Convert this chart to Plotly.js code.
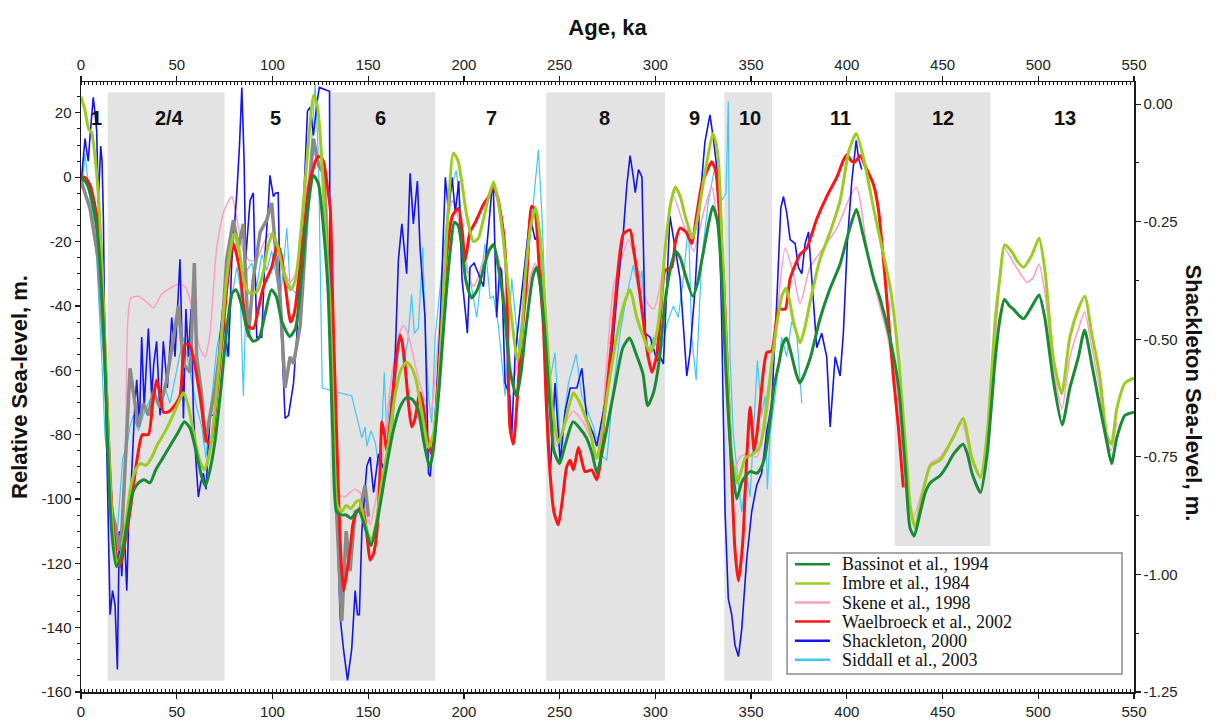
<!DOCTYPE html>
<html>
<head>
<meta charset="utf-8">
<script src="https://cdn.plot.ly/plotly-3.0.1.min.js"></script>
<style>html,body{margin:0;padding:0;background:#fff}#chart{width:1220px;height:722px}</style>
</head>
<body>
<div id="chart"></div>
<script>
// ---------------- DATA ----------------
const bandStart = [14, 130, 243, 336, 425];
const bandEnd   = [75, 185, 305, 361, 475];
const stageLabels = ['1','2/4','5','6','7','8','9','10','11','12','13'];
const stageLabelAge = [8.2, 46.1, 101.5, 156.2, 214.2, 273.3, 320.5, 349.4, 396.8, 450.1, 514];

const xTickVals = [0,50,100,150,200,250,300,350,400,450,500,550];
const xTickText = ['0','50','100','150','200','250','300','350','400','450','500','550'];
const yTickVals = [20,0,-20,-40,-60,-80,-100,-120,-140,-160];
const yTickText = ['20','0','-20','-40','-60','-80','-100','-120','-140','-160'];
const y2TickVals = [0,-0.25,-0.5,-0.75,-1,-1.25];
const y2TickText = ['0.00','-0.25','-0.50','-0.75','-1.00','-1.25'];

const bassinotAge = [0,3,6,9,12,14,16,18.5,21,24,27,30,33,36,39,43,47,51,54,57,60,63,65,67,70,73,76,79,81,84,87,90,93,96,99.5,102,105,109,112,115,118,121.5,124,126.5,129,131.5,133.5,136,138.5,141,145,148,151.5,155,159,163,167,170,173,176,179,182,184,187,190,193,195,197,199,201,204,207,210,213,215.5,218,221,224,227.5,230,232,236,238,240,242.5,245,247,250,253,257,260.5,264,267,269.5,272,275,279.5,283,286.5,290,293.5,296,299,302,305,308,310.5,313,315,319.5,322,324.5,327,330,332.5,334.5,336.5,339.5,342.5,345,347,349.5,353,355.5,357.5,360,362,364.5,366.5,368.5,371,373.5,375.5,378,381,386,391,396.5,401,405,408.5,414,417.5,422.5,427,430.5,433,435.2,438.4,441,443.6,448.8,452,455.8,460.7,463,465.4,469.8,473.3,477.6,480,482.3,485,487,490,492.4,496.8,500.4,503.5,507.8,512.5,516.5,520.9,524.2,527.9,532.2,535.7,538.3,541,545.3,550];
const bassinotSL = [0,-2,-8,-20,-50,-85,-110,-121,-118,-108,-98,-95,-94,-95,-91,-87,-83,-79,-76,-78,-85,-93,-96,-92,-82,-66,-48,-36,-35,-40,-48,-51,-50,-43,-35,-37,-45,-49.5,-47,-32,-12,0.5,-2,-15,-35,-80,-104,-105,-105,-106,-103.5,-108,-114.5,-106,-92,-79,-71,-68.5,-69,-72,-82,-90,-85,-66,-42,-22,-14,-15,-22,-32,-37.5,-35,-29,-23,-21,-28,-40,-60,-68,-60,-49,-31,-28,-34,-50,-72,-85,-89,-83,-76,-78,-81,-86,-92,-86,-77,-63,-53,-50,-55,-61,-71,-67,-57,-39,-28,-23,-25,-29,-37,-33,-25,-17,-9,-14,-30,-56,-86,-100,-95,-93,-91.5,-92,-90,-86,-75,-65,-58,-52,-50,-55,-61,-64,-61,-56,-44,-35,-27,-17,-10,-18,-31.5,-38,-50,-65,-90,-109,-111.5,-104,-98,-95,-92.7,-90,-86,-83,-86,-92,-98,-86,-56,-44,-38,-40,-41,-43,-44,-40,-36.6,-44,-63,-77,-65.5,-56,-47.5,-58,-71.5,-82,-89,-81,-74,-73];

const imbrieAge = [0,2,4,5.5,7,9,11,13,15,17,18.8,21,23.5,26,28.5,31,34,37,40,44,48,51,53.5,56,59,62,64.5,67,70,73,76,78.5,80.3,82.5,85,88,92,95,97.5,100,102.5,106,109.5,112,115,118,121.5,123.5,125.5,127.5,130,132,133.8,136,138.5,141,143.5,145.5,148,151.5,154,157,160,164,167,170,172.5,175,178,181.5,184,186.5,189,191.5,194.5,197,199,201.5,205,207.5,210,213,215.5,218,220.5,224,228,230,232,235,237.5,239.5,241.5,244,246,249.3,252,254.5,257.2,260,262.5,265.5,269.4,272,275,279.8,283.3,286.8,290.3,293.8,297.3,300.7,303,305,308,310.5,313,316,319.5,322,324.2,327,330,331.5,333,334.5,336.4,338.5,340,342.8,345,346.9,351.2,354.7,356.5,358.2,361,363.4,366,368.2,370,372.1,375.6,378,380.8,386,391.3,396.5,401,404.9,408.7,414,418.3,422.6,427,430.5,433.1,435.7,439.2,443.6,448.8,455.8,460.7,465.4,469.8,473.3,477.6,480,482.4,486,489,492.3,496.8,500.4,503.5,507.8,512.2,516.5,520.9,524.3,527.9,532.2,535.7,538.2,541,545.3,550];
const imbrieSL = [25,21,15,14,8,-5,-28,-60,-92,-113,-121,-117,-107,-96,-91,-89,-89.5,-87,-83,-79,-74,-70,-67,-71,-80,-88,-91,-86,-72,-52,-32,-21,-17.5,-22,-32,-36,-35.5,-30,-22,-17.5,-21,-30,-35,-32,-16,5,25.5,22,8,-15,-40,-80,-102,-104,-102,-103,-101,-100.5,-107,-113,-108,-95,-85,-68,-60,-57.5,-59,-63,-73,-84,-80,-66,-40,-13,7.5,5,-2,-12,-20,-19,-13.5,-6,-1.5,-8,-19,-39,-57,-50,-31,-15,-9.5,-17,-32,-55,-71,-82.5,-78,-72,-67,-69.5,-73,-78,-87.5,-80,-67,-49.7,-40,-35,-43.6,-49.7,-54.5,-48.5,-38,-23,-8,-3,-6,-13,-18.8,-13,-4.8,5,13.6,11,4.8,-15,-43.6,-72,-87.3,-95,-91,-87.3,-86,-83.6,-78,-70.3,-57,-46,-37,-34.5,-38,-44.8,-51.5,-47,-38.8,-25.5,-17,-7.3,8,13.6,6,-9.7,-21.8,-34,-56,-82.4,-102,-109,-99.4,-89.7,-87.9,-80.6,-75,-87.3,-93.3,-80,-43.6,-31,-21,-23,-26,-28,-24,-19,-29,-56,-67.3,-49.7,-41,-37,-48.5,-62,-80,-83,-72,-64,-62.4];

const skeneAge = [0,4,8,11,13.5,16,18.5,21,23,23.8,24.5,26,30,34.3,37.8,42.1,46.5,50.9,54.3,56.5,58.7,62.2,64.8,67.4,69,70.9,74.4,78.7,81.4,84.8,88.3,91.8,95.3,98.8,102.2,105.5,109.2,112,115,118,121.4,124,126.7,129,132,133.5,136,137.9,140.5,143,145.8,148,151,154,158,161,163.2,166,168.4,171,173.6,176,178.9,182.4,184,185.8,189.4,191.5,193.8,196,198.1,201,204.9,207.5,210.2,215.4,218,220.6,223,225.8,228.5,231,234,237.2,240.7,244.2,248.5,252,257.2,262.5,267.7,271.2,274,278.1,281.6,286,290.3,295.6,299,302.5,305,309.4,314.6,319.9,325.1,329.4,332.9,335,337.2,340.7,344.2,347.7,352.9,358.2,363.4,367.8,372.1,375.6,380.8,387.8,394.8,401.7,404.9,407,410.4,415.7,420.9,426.2,429.6,432.3,434.9,438.4,443.6,448.8,455.8,460.2,465.4,469.8,473.3,478.5,482,487.2,494.2,497.5,500.3,503.5,508,512.4,516.5,521,524.2,528,532,536,538,541];
const skeneSL = [0,-3,-10,-30,-65,-100,-114,-110,-96,-60,-44,-37.6,-37,-38.8,-40.6,-36.4,-34.5,-33.3,-34,-37,-43.6,-53.3,-55.8,-48.5,-36,-21.8,-11,-6,-13,-23,-26,-25.5,-20.6,-17.5,-22,-28,-32.7,-30,-18,-3,7.3,5,2.4,-15,-55.8,-99.4,-99,-99.4,-98,-97,-98,-102,-108,-100,-85,-68,-58,-49,-46,-49,-55.8,-62,-68,-74,-68,-55.8,-29,-14,-7.3,-10,-16,-26,-34,-31,-25.5,-20.6,-25,-34,-50,-63,-56,-45,-33,-26.7,-38.8,-68,-83.6,-77.6,-72.7,-76.4,-82.4,-80,-62,-34,-26.7,-19.4,-27.9,-38.8,-41,-34,-23,-6,-14.5,-23,-11,-3,-17,-40,-68,-92,-87,-86,-87,-74,-43.6,-22,-30,-39.4,-27.9,-22,-15.8,-6,-3,-7.3,-21.8,-36.4,-48.5,-65.5,-86,-101.8,-105.5,-99.4,-89,-87,-80.6,-76.4,-88.5,-93,-80,-43.6,-21.8,-26.7,-32.7,-31,-27,-36,-60,-72,-56,-47,-42,-53,-66,-82,-85,-76];

const waelAge = [0,2,4.7,7,10,12,13.4,15,17,19,20.4,22.5,25.6,28,30,32,35.2,37.5,39.5,41.5,43,45.5,48.2,51.7,54.3,56.5,58.7,62.2,65.7,67.5,69,71.5,74.4,77,79.6,83,86.6,90,93,95.3,99.6,102.5,104.5,107,109.5,111.5,114,116.2,119,123.2,125,126.7,128.5,130.2,131.5,133.5,135.5,137.1,138.8,140.5,142,144,146,147.5,149.5,151,152.8,154.6,156,157.2,158.5,159.7,161.5,163.2,165,166.7,168,169.2,171,172.7,174.5,177,179,180.5,183.1,185,186.6,189,191,194,197.1,199,200.6,202,203.2,206,210.2,213,215.2,217.5,220.6,222.3,224,225.8,227.5,229.3,232.8,235.4,237,239.5,241.5,243,245,247,249.3,251.5,253.7,255.5,257.2,259.8,261.5,263.3,266.8,269.4,271,273,274.6,277,279,281,283.3,286.8,288.5,290.3,293.8,296,298.2,300.8,303,305,308.5,310.5,312.9,316,319,321.5,324.2,327,329.4,331,332,333.5,335.6,337.3,339,341.6,343.4,345,346,347.5,349.5,350.5,351.6,353,354.8,356.5,358.2,360.8,362.5,364.3,367.8,370.4,375.6,379.1,384.3,389.5,394.8,398,400,402.5,404.3,407,410,414,416.5,419.1,421.5,424.3,427,429.5];
const waelSL = [0,0,-2.4,-8,-19,-45,-68,-92,-110,-119,-121,-115,-104,-93,-85,-80,-80,-70,-63,-68,-73,-73,-71.5,-68,-52,-52,-56,-68,-82,-83,-79,-64,-46,-30,-20.6,-29,-46,-47,-40,-34,-28,-21,-24,-35,-45,-42,-30,-19,-3,6,6.4,4.8,-2,-10,-40,-80,-115,-128.5,-123,-116,-108,-104,-103,-104,-112,-119,-117,-110,-95,-76,-80,-85,-76,-65.5,-55,-49,-52,-58,-70,-77.6,-75,-67,-72,-80,-86,-78,-63,-42,-24,-12,-9.7,-16,-26,-21,-17,-14,-8.5,-6,-3,-6,-17,-31.5,-77.6,-83,-72,-55.8,-31.5,-9,-10,-30,-46,-70,-92,-104,-108,-100,-90,-88,-91,-84,-88,-91.5,-91,-94,-90,-76,-66.7,-52,-38.8,-26,-17.6,-16.4,-22,-29,-45,-55,-60.6,-55,-40,-29,-28,-20,-15.8,-17,-20.6,-12,-2.4,2,4.8,3,0,-12,-31.5,-55,-80,-116,-125.5,-118,-110,-90,-71.5,-78,-85,-80,-70,-60,-54.5,-54,-48,-41,-41,-31.5,-24,-22,-13,-6,0,5,7,5,4.8,6.7,3,-2.4,-10,-25.5,-42,-62,-78,-96.4];

const shackAge = [0,1,2.1,3,3.8,5,6.4,7.3,8.2,9,10.3,11,11.7,12.5,13.5,14.3,15.2,16.5,17.8,19,20,21.3,22.5,23.9,25,26,27.3,28.2,29.1,30.5,31.7,33,34,35.2,36.9,38,39.5,41.3,43,45.1,47.4,49.1,50.5,51.7,52.7,53.5,54.8,56.1,57.5,58.7,60,61.3,62.5,63.9,65.3,67.4,70,72.6,74.4,75.5,77,78.7,81.4,82.8,84,85.2,86,88.3,90,91.8,94.4,96.1,97.9,98.7,100.5,101.5,103,104,106.6,108.4,111,112.7,114.5,116.2,118.3,119.7,121.4,123.2,124.5,129.8,130.1,132.7,135.4,137.1,139.2,141.4,143.2,144.4,145.4,146.7,149.3,151,152.8,155.4,158.8,161.5,164.1,165.8,167.6,170.1,171.9,173.6,175.7,177.1,179.7,181.5,182.4,185,187.6,190.3,192,193.8,195.5,197.3,199,200.8,201.8,203.2,205.3,207.6,210.2,211.9,214.5,215.4,217.1,218.8,219.7,221.5,224,225,226.7,229.3,232,234.5,237.2,239.8,242.4,245,247.6,250.3,252.9,255.5,259,261.6,264.2,267.7,269.4,272.9,276.4,279.8,283.3,285.1,286.8,288.5,289.5,291.2,293,294.7,297.3,300.8,302.5,304.2,305.5,307.6,310.3,312.9,314.6,316.4,318.1,320.7,323.3,325.9,328.5,330.3,332.9,334.6,336.4,338.1,339.9,341.6,343.4,345.1,347.7,350.3,352.9,355.5,358.2,360.8,363.4,365.5,366.9,368.6,370.4,373,374.7,376.5,378.2,380,381.7,384.3,386.9,389.5,391.3,393.9,396.5,398.2,400.3,402.6,404.9,406.1,407.8];
const shackSL = [-2,5,12,8,5,15,24.8,20,14.5,-8.5,9.7,5,-13,-56,-85,-104,-136,-128.5,-133,-153,-110,-124,-108,-128.5,-105,-98,-80,-70,-63,-77.6,-49.7,-71.5,-60,-47,-68,-58,-51,-74,-51,-65.5,-43.6,-55.8,-40,-25.5,-50,-75,-41,-55.8,-41,-72.7,-88,-99.4,-95,-92,-97,-74,-74,-49.7,-38.8,-50,-55.8,-26.7,-4.8,10,27.9,5,-25.5,-7.3,-4.8,-49.7,-49.7,-24,-8.5,0.6,-6,-5,-4.8,-38.8,-75,-74,-64,-49.7,-25.5,-8.5,20.6,21.8,13,23,27.9,26.7,-43.6,-92,-137,-146.7,-156.4,-146.7,-128.5,-136,-136,-110,-89.7,-87,-98,-86,-92,-76,-55.8,-25.5,-14.5,-30,1.2,-14.5,-1.2,-22,-43.6,-92,-93,-74,-46,0,-11,0,-11,-1.2,-31.5,-42,-48.5,-28,-26.7,-30,-34,-22,-4.8,-3.6,-43.6,-28,-29,-64,-68,-80,-55.8,-41,-25.5,-12,-19.4,-17,-55.8,-93,-64,-88.5,-72.7,-65.5,-65.5,-59.4,-75,-80,-83.6,-72.7,-61.8,-37.6,-17,-2.4,6.7,0,-4.8,2.4,0,-48.5,-49.7,-57,-55.8,-58,-40,-12,-22,-31.5,-46,-61.8,-54.5,-35,-7.3,11,19.4,12,-1.2,-43.6,-104,-131,-136,-145.5,-149,-140.6,-118.8,-104,-95.8,-92,-79,-70.3,-38.8,-9.7,-6,-11,-19.4,-20.6,-28,-30,-20.6,-17,-31.5,-53,-48.5,-55.8,-77.6,-55.8,-61.8,-48.5,-20,-1.2,11.5,6,2.4];

const siddallAge = [0,1,2.1,3,4.7,6,8.2,10.8,12.5,15.2,16.9,19,20.4,21.8,23.9,25.6,27.3,30,32.6,35.2,37.8,41.3,43.9,46.5,49.1,51.7,53.5,56.1,58.7,60.4,63.1,65.3,67.4,70.9,73.5,76.1,78.7,81.4,83.1,84.8,86.6,89.2,91.8,94.4,97,99.6,102.2,104,107.5,109.2,112.7,116.2,118.8,120.6,122.3,124.1,125.3,126,141.4,144,146.7,148.4,149.3,151.5,153.7,155.4,157.2,158.4,159.7,161.5,162.9,164.6,166.7,168.4,170.7,172.7,174.1,176.2,178.5,179.7,181.5,183.2,185,187.6,190.3,192,194.3,196,198,199.9,201.6,203.2,206.7,211,213.7,215.4,218,221.5,225,228.5,232,235.4,238.9,240.7,244.2,247.6,250.3,254.6,258.6,261.6,267.7,271.2,274.6,278.1,281.6,285.1,288.5,291.2,293,295.6,299,302.4,305.9,309.4,312,314.6,317.3,319,321.3,324.2,327.7,331.2,334.6,336.9,338.1,339,340.7,342.8,345.1,347.7,349.5,351.2,353.3,355.5,357.3,358.5,359.9,362.5,366,368.6,371.2,373.8,376.5];
const siddallSL = [-3.6,0,7.3,2,-7.3,-10,-25.5,-55.8,-80,-95.8,-104,-110,-98,-87.3,-83.6,-77.6,-74,-78.8,-74,-70.3,-66.7,-71.5,-65.5,-70.3,-63,-55.8,-49.7,-58,-65.5,-71.5,-77.6,-87.3,-74,-53.3,-46,-55.8,-37.6,-27.9,-34,-68,-29,-26.7,-34,-24,-29,-23,-31.5,-38.8,-15.8,-34,-36.4,-7.3,-1.2,12,29,4.8,-40,-65.5,-68,-74,-81,-77.6,-83.6,-78.8,-82.4,-89.7,-77.6,-60.6,-80,-68,-77.6,-61.8,-48.5,-58,-51,-36.4,-48.5,-47,-21.8,-46,-68,-76.4,-49.7,-34,-17,-7.3,-1.2,2,-8,-25.5,-29,-31.5,-43.6,-20.6,-37.6,-37,-46,-68,-31.5,-53.3,-35,-13.3,8.5,-11,-65.5,-54.5,-83.6,-64,-55,-68,-77.6,-86,-88,-65.5,-48.5,-36.4,-27.3,-35,-29,-55.8,-49.7,-55.8,-46,-40,-43.6,-31.5,-14.5,-49.7,-63,-25.5,-7.3,3.6,-7.3,-4.8,23.6,-55.8,-80,-92,-104,-92,-99.4,-80,-57,-74,-67.9,-97,-80,-68,-49.7,-55.8,-44.8,-48.5,-70.3];

const grayAge = [0,4.7,9,12.5,16,17.8,19.5,21.3,23.9,25.6,27.3,30,32.6,35.2,37.8,41.3,44.8,48.2,50.9,53.5,57,59.2,60.4,63.1,64.8,67.4,70,73.5,76.1,79.6,82.2,84.8,87.4,90,93.6,97,99.6,102.2,104,106.6,109.2,111,114.5,118,121.4,124.1,126.7,130.2,133.5,136.2,138.5,140.5,143.2,145.8,148.4,150.2];
const graySL = [-1,-9.7,-25.5,-58,-104,-108,-116,-110,-80,-59.4,-66.7,-77.6,-70.3,-74,-66.7,-71.5,-63,-49.7,-40,-58,-60.6,-26.7,-55.8,-68,-82.4,-74,-65.5,-49.7,-25.5,-13.3,-21.8,-14.5,-49.7,-31.5,-17,-13.3,-8,-26.7,-37.6,-65.5,-55.8,-58,-46,-13.3,12,3.6,1.2,-43.6,-104,-138,-110,-122.4,-104,-103,-95.8,-105.5];

const seriesNames  = ['Bassinot et al., 1994','Imbre et al., 1984','Skene et al., 1998','Waelbroeck et al., 2002','Shackleton, 2000','Siddall et al., 2003'];
const seriesColors = ['#1b8a36','#9ccc22','#ff9cc6','#ff1414','#1414f0','#40c8f4'];

// ---------------- CHART ----------------
const FONT = 'Liberation Sans, Arial, Helvetica, sans-serif';
const SERIF = 'Liberation Serif, Times New Roman, serif';
const INK = '#1a1a1a';

function tr(x, y, idx, width, smooth) {
  return {
    x: x, y: y, name: seriesNames[idx], type: 'scatter', mode: 'lines',
    line: {color: seriesColors[idx], width: width, shape: smooth ? 'spline' : 'linear', smoothing: smooth ? 0.6 : 0},
    showlegend: false, hoverinfo: 'skip'
  };
}

const traces = [
  tr(siddallAge, siddallSL, 5, 1.2, false),
  tr(skeneAge, skeneSL, 2, 1.5, true),
  tr(shackAge, shackSL, 4, 1.6, false),
  {x: grayAge, y: graySL, name: 'gray record', type: 'scatter', mode: 'lines',
   line: {color: '#8a8a8a', width: 3.5}, showlegend: false, hoverinfo: 'skip'},
  tr(waelAge, waelSL, 3, 3, true),
  tr(imbrieAge, imbrieSL, 1, 3, true),
  tr(bassinotAge, bassinotSL, 0, 3, true),
  {x: [0, 550], y: [0, 0], xaxis: 'x2', yaxis: 'y', mode: 'lines', line: {width: 0}, opacity: 0, showlegend: false, hoverinfo: 'skip'},
  {x: [0, 550], y: [-1, -1], xaxis: 'x', yaxis: 'y2', mode: 'lines', line: {width: 0}, opacity: 0, showlegend: false, hoverinfo: 'skip'}
];

const shapes = bandStart.map((s, i) => ({
  type: 'rect', layer: 'below', xref: 'x', yref: 'y',
  x0: s, x1: bandEnd[i], y0: (s === 425 ? -114.6 : -156.5), y1: 26.4,
  fillcolor: '#e3e3e3', line: {width: 0}
}));

const annotations = stageLabels.map((t, i) => ({
  text: '<b>' + t + '</b>', x: stageLabelAge[i], y: 18.5, xref: 'x', yref: 'y',
  showarrow: false, font: {family: FONT, size: 20, color: '#111'}
}));
annotations.push({
  text: '<b>Shackleton Sea-level, m.</b>', xref: 'paper', yref: 'paper',
  x: 1.0703, y: 0.49, textangle: 90, showarrow: false,
  font: {family: FONT, size: 22, color: '#111'}
});

// legend box (paper coordinates)
const LX0 = 0.6705, LX1 = 0.9886, LY0 = 0.0295, LY1 = 0.2279;
shapes.push({type: 'rect', layer: 'above', xref: 'paper', yref: 'paper',
  x0: LX0, x1: LX1, y0: LY0, y1: LY1, fillcolor: '#ffffff', line: {color: '#8c8c8c', width: 1.5}});
seriesNames.forEach((nm, i) => {
  const yy = 0.2093 - i * 0.0313;
  shapes.push({type: 'line', layer: 'above', xref: 'paper', yref: 'paper',
    x0: 0.678, x1: 0.7113, y0: yy, y1: yy, line: {color: seriesColors[i], width: 2.5}});
  annotations.push({text: nm, xref: 'paper', yref: 'paper', x: 0.7205, y: yy,
    xanchor: 'left', yanchor: 'middle', showarrow: false,
    font: {family: SERIF, size: 18, color: '#111'}});
});

const xCommon = {
  range: [0, 550], tickmode: 'array', tickvals: xTickVals, ticktext: xTickText,
  showline: true, linecolor: INK, linewidth: 1.5, showgrid: false, zeroline: false,
  ticks: 'outside', ticklen: 5, tickwidth: 1.2, tickcolor: INK,
  tickfont: {family: FONT, size: 15, color: '#222'},
  minor: {ticks: 'inside', ticklen: 3, tickwidth: 1, tickcolor: INK, tickmode: 'linear', tick0: 0, dtick: 2, showgrid: false}
};

const layout = {
  width: 1220, height: 722,
  margin: {l: 81, r: 86, t: 82, b: 30},
  paper_bgcolor: '#ffffff', plot_bgcolor: '#ffffff',
  showlegend: false,
  xaxis: Object.assign({}, xCommon, {side: 'bottom', anchor: 'y'}),
  xaxis2: Object.assign({}, xCommon, {
    side: 'top', overlaying: 'x', anchor: 'y',
    title: {text: '<b>Age, ka</b>', font: {family: FONT, size: 22, color: '#111'}, standoff: 14}
  }),
  yaxis: {
    range: [-160, 29.6], tickmode: 'array', tickvals: yTickVals, ticktext: yTickText,
    showline: true, linecolor: INK, linewidth: 1.5, showgrid: false, zeroline: false,
    ticks: 'outside', ticklen: 5, tickwidth: 1.2, tickcolor: INK,
    tickfont: {family: FONT, size: 15, color: '#222'},
    minor: {ticks: 'outside', ticklen: 3, tickwidth: 1, tickcolor: INK, tickmode: 'linear', tick0: 0, dtick: 5, showgrid: false},
    title: {text: '<b>Relative Sea-level, m.</b>', font: {family: FONT, size: 22, color: '#111'}, standoff: 8}
  },
  yaxis2: {
    range: [-1.25, 0.047], overlaying: 'y', side: 'right', anchor: 'x',
    tickmode: 'array', tickvals: y2TickVals, ticktext: y2TickText,
    showline: true, linecolor: INK, linewidth: 1.5, showgrid: false, zeroline: false,
    ticks: 'outside', ticklen: 5, tickwidth: 1.2, tickcolor: INK,
    tickfont: {family: FONT, size: 15, color: '#222'},
    minor: {ticks: 'outside', ticklen: 3, tickwidth: 1, tickcolor: INK, tickmode: 'linear', tick0: 0, dtick: 0.125, showgrid: false}
  },
  shapes: shapes,
  annotations: annotations
};

Plotly.newPlot('chart', traces, layout, {displayModeBar: false, staticPlot: true});
</script>
</body>
</html>
